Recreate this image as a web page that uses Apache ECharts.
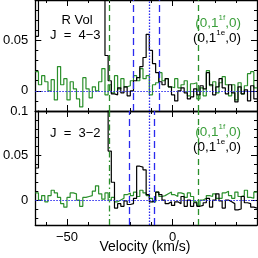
<!DOCTYPE html>
<html><head><meta charset="utf-8">
<script src="https://cdn.jsdelivr.net/npm/echarts@6/dist/echarts.min.js"></script>
<style>html,body{margin:0;padding:0;background:#fff;}#c{width:258px;height:258px;}</style>
</head><body><div id="c"></div>
<script>
// Spectral grid (km/s)
const V_START = -65;
const CHAN_WIDTH = 1.5;
const X_MIN = -65, X_MAX = 40;

// J = 4-3 panel
const top43Green = [0.019, 0.006, 0.015, 0.009, 0.000, 0.011, -0.009, 0.024, 0.006, 0.012,
 -0.009, 0.009, 0.002, -0.008, -0.016, 0.013, 0.002, -0.007, 0.004, 0.000,
 0.009, 0.022, -0.004, 0.006, -0.002, 0.015, 0.002, 0.012, 0.004, 0.005,
 0.010, 0.015, 0.010, 0.022, 0.012, 0.015, -0.004, 0.006, 0.008, 0.018,
 0.010, 0.012, 0.004, 0.003, 0.012, 0.003, 0.006, 0.010, -0.005, 0.007,
 0.008, -0.008, 0.003, -0.005, 0.020, 0.005, 0.009, -0.002, 0.008, 0.014,
 0.006, -0.005, 0.006, -0.009, 0.008, -0.003, 0.005, 0.017, 0.019, 0.003];
const top43Black = [0.054, 0.2, 0.2, 0.2, 0.2, 0.2, 0.2, 0.2, 0.2, 0.2,
 0.2, 0.2, 0.2, 0.2, 0.2, 0.2, 0.2, 0.2, 0.2, 0.2,
 0.2, 0.2, 0.035, 0.010, -0.003, -0.004, 0.003, -0.002, 0.004, -0.005,
 0.000, 0.010, 0.013, 0.024, 0.033, 0.056, 0.040, 0.027, 0.018, 0.009,
 0.006, 0.012, 0.004, -0.004, -0.010, 0.000, 0.003, -0.002, -0.008, -0.006,
 0.002, -0.004, 0.005, 0.002, 0.018, 0.006, -0.004, 0.004, 0.012, 0.003,
 -0.003, 0.006, -0.002, -0.011, 0.004, -0.003, 0.001, -0.010, 0.005, -0.008];

// J = 3-2 panel
const bot32Green = [0.008, 0.000, 0.005, -0.002, 0.005, 0.011, 0.008, 0.003, -0.004, -0.008,
 0.003, 0.008, 0.007, 0.000, -0.007, 0.003, 0.004, 0.005, 0.010, 0.016,
 0.007, 0.001, 0.008, 0.000, 0.003, -0.002, 0.000, 0.002, 0.006, 0.008,
 0.005, 0.009, 0.004, 0.011, 0.008, 0.005, 0.002, -0.002, 0.009, 0.004,
 0.005, 0.007, 0.009, 0.006, 0.004, 0.008, 0.007, 0.003, 0.008, 0.004,
 -0.002, -0.006, 0.000, 0.002, 0.005, 0.004, 0.007, 0.002, 0.002, 0.008,
 0.010, 0.005, 0.002, 0.009, 0.004, 0.005, 0.011, 0.003, 0.002, 0.009];
const bot32Black = [0.036, 0.2, 0.2, 0.2, 0.2, 0.2, 0.2, 0.2, 0.2, 0.2,
 0.2, 0.2, 0.2, 0.2, 0.2, 0.2, 0.2, 0.2, 0.2, 0.2,
 0.2, 0.2, 0.2, 0.055, 0.020, -0.009, -0.004, -0.007, -0.001, -0.005,
 -0.004, 0.002, 0.038, 0.037, 0.034, 0.006, -0.002, 0.000, 0.009, 0.006,
 0.000, -0.004, -0.002, -0.006, -0.002, -0.004, 0.004, -0.007, 0.000, -0.007,
 -0.003, -0.007, -0.006, -0.003, 0.002, -0.008, 0.000, 0.007, -0.001, -0.009,
 0.000, -0.002, -0.004, -0.011, -0.010, 0.004, -0.003, -0.004, -0.008, -0.009];

// Reference velocities (km/s)
const greenMarks = [-30, 12];
const topBlueDashed = [-18.4, -6.2];
const botBlueDashed = [-20.7, -8.5];
const blueDotted = [-11];

// Axis tick labels
const xTickLabels = [-50, 0];
const yTickLabels = [0, 0.05, 0.1];

const GREEN = '#2a8f2a';
const GREEN_TXT = '#3a9e3a';
const BLUE = '#2a2aee';
const FONT = '"Liberation Sans", Arial, sans-serif';

function hist(vals) {
  const pts = vals.map((v, i) => [V_START + i * CHAN_WIDTH, v]);
  pts.push([V_START + vals.length * CHAN_WIDTH, vals[vals.length - 1]]);
  return pts;
}
function isLabel(v, list) { return list.some(t => Math.abs(t - v) < 1e-9); }

function xAx(gridIndex, position, showLabel) {
  return {
    type: 'value', gridIndex, position, min: X_MIN, max: X_MAX, splitNumber: 2,
    axisLine: {show: true, onZero: false, lineStyle: {color: '#000', width: 1.3}},
    axisTick: {show: true, inside: true, length: 6, lineStyle: {color: '#000', width: 1}},
    minorTick: {show: true, splitNumber: 5, length: 3, lineStyle: {color: '#000', width: 1}},
    splitLine: {show: false},
    axisLabel: {show: showLabel, showMinLabel: false, showMaxLabel: false, margin: 6,
      fontSize: 13, color: '#000', fontFamily: FONT,
      formatter: v => isLabel(v, xTickLabels) ? String(v).replace('-', '\u2212') : ''}
  };
}
function yAx(gridIndex, position, min, max, showLabel) {
  return {
    type: 'value', gridIndex, position, min, max, splitNumber: 2,
    axisLine: {show: true, onZero: false, lineStyle: {color: '#000', width: 1.3}},
    axisTick: {show: true, inside: true, length: 6, lineStyle: {color: '#000', width: 1}},
    minorTick: {show: true, splitNumber: 5, length: 3, lineStyle: {color: '#000', width: 1}},
    splitLine: {show: false},
    axisLabel: {show: showLabel, margin: 7, fontSize: 13, color: '#000', fontFamily: FONT,
      formatter: v => isLabel(v, yTickLabels) ? String(v) : ''}
  };
}
function vline(x, color, type) { return {xAxis: x, lineStyle: {color, type, width: 1.3}}; }
function marks(blueDashed, greenTypes) {
  const d = [];
  d.push({yAxis: 0, lineStyle: {color: BLUE, type: [1.5, 1.5], width: 1.2}});
  greenMarks.forEach((x, i) => d.push(vline(x, GREEN, greenTypes[i])));
  blueDashed.forEach(x => d.push(vline(x, BLUE, [7, 4])));
  blueDotted.forEach(x => d.push(vline(x, BLUE, [1.5, 1.5])));
  return {silent: true, symbol: ['none', 'none'], label: {show: false}, animation: false, data: d};
}
function spec(xi, yi, vals, color, z, markLine) {
  const s = {type: 'line', xAxisIndex: xi, yAxisIndex: yi, data: hist(vals), step: 'end',
    symbol: 'none', showSymbol: false, clip: true, z,
    lineStyle: {color, width: 1.2}, animation: false};
  if (markLine) s.markLine = markLine;
  return s;
}

// text helpers
const mctx = document.createElement('canvas').getContext('2d');
function tw(t, size) { mctx.font = size + 'px ' + FONT; return mctx.measureText(t).width; }
function txt(x, y, t, size, color, align) {
  return {type: 'text', x, y, z: 100, style: {text: t, fill: color, font: size + 'px ' + FONT,
    textAlign: align || 'left', textVerticalAlign: 'middle', align: align || 'left', verticalAlign: 'middle'}};
}
function stateLabel(rightX, cy, sup, color) {
  const a = '(0,1', c = ',0)';
  const wa = tw(a, 13.5), wb = tw(sup, 8), wc = tw(c, 13.5);
  const x0 = rightX - (wa + wb + wc);
  return [txt(x0, cy, a, 13.5, color), txt(x0 + wa, cy - 5, sup, 8, color), txt(x0 + wa + wb, cy, c, 13.5, color)];
}

const graphics = [
  txt(77, 20, 'R Vol', 13, '#000', 'center'),
  txt(50, 35, 'J  =  4\u22123', 13, '#000'),
  ...stateLabel(241, 23, '1f', GREEN_TXT),
  ...stateLabel(241, 38, '1e', '#000'),
  txt(50, 133, 'J  =  3\u22122', 13, '#000'),
  ...stateLabel(241, 132, '1f', GREEN_TXT),
  ...stateLabel(241, 147, '1e', '#000'),
  txt(145, 247, 'Velocity (km/s)', 14, '#000', 'center')
];

const chart = echarts.init(document.getElementById('c'), null, {renderer: 'canvas', width: 258, height: 258});
chart.setOption({
  animation: false,
  backgroundColor: '#fff',
  grid: [
    {left: 33, right: 1, top: -4.5, height: 115.5},
    {left: 33, right: 1, top: 111, height: 114}
  ],
  xAxis: [xAx(0, 'bottom', false), xAx(0, 'top', false), xAx(1, 'bottom', true), xAx(1, 'top', false)],
  yAxis: [yAx(0, 'left', -0.02, 0.09, true), yAx(0, 'right', -0.02, 0.09, false),
          yAx(1, 'left', -0.028, 0.1, true), yAx(1, 'right', -0.028, 0.1, false)],
  series: [
    spec(0, 0, top43Green, GREEN, 2),
    spec(0, 0, top43Black, '#000', 3, marks(topBlueDashed, [[6, 4], [6, 4]])),
    spec(2, 2, bot32Green, GREEN, 2),
    spec(2, 2, bot32Black, '#000', 3, marks(botBlueDashed, [[6, 3, 1.5, 3], [6, 4]]))
  ],
  graphic: graphics
});
</script></body></html>
